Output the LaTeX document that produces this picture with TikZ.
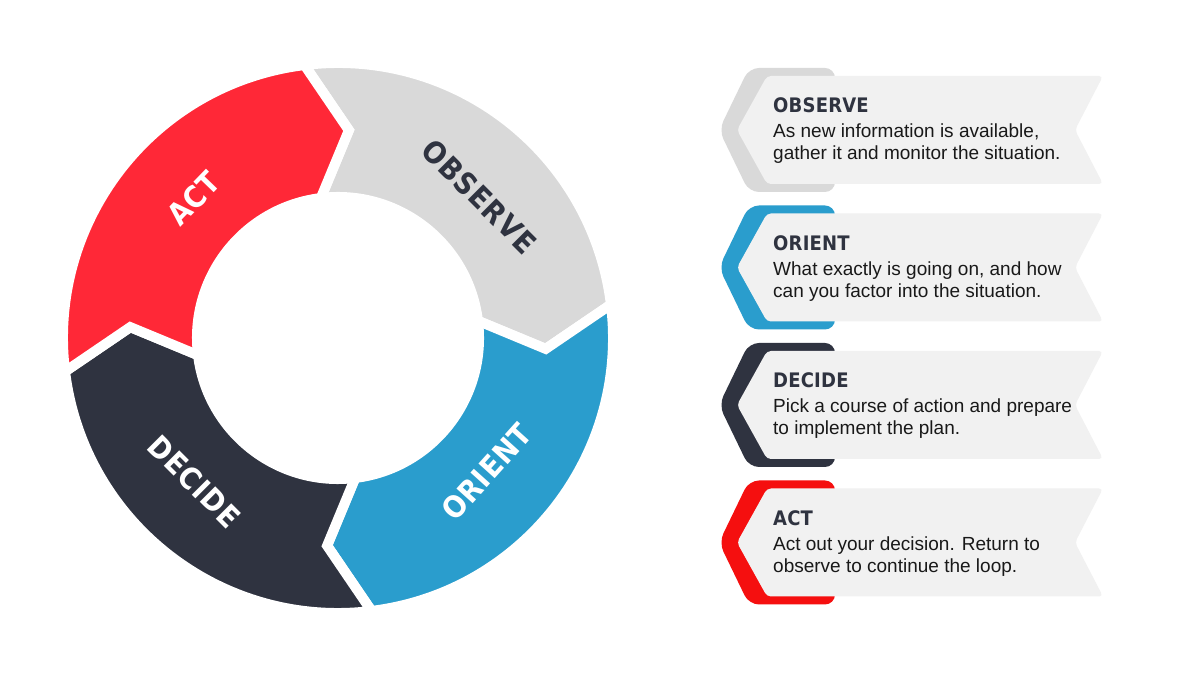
\documentclass[tikz,border=0pt]{standalone}
\usepackage{fontspec}
\setmainfont{Liberation Sans}
\newfontfamily\dinfont{DejaVu Sans Condensed}[LetterSpace=3]
\newfontfamily\dinhead{DejaVu Sans Condensed}[LetterSpace=1]
\usetikzlibrary{positioning}

\definecolor{obsgray}{HTML}{D9D9D9}
\definecolor{oriblue}{HTML}{2A9DCD}
\definecolor{decdark}{HTML}{2F3340}
\definecolor{actred}{HTML}{FF2837}
\definecolor{actpure}{HTML}{F50F0F}
\definecolor{bannergray}{HTML}{F1F1F1}

\begin{document}
\begin{tikzpicture}[
    x=1pt, y=1pt,
    segment/.style={draw=white, line width=10pt},
    ringlabel/.style={
        font=\dinfont\bfseries\fontsize{30}{30}\selectfont,
        text=white
    },
    hexagon/.style={rounded corners=10pt},
    banner/.style={fill=bannergray, rounded corners=4pt},
    headline/.style={
        anchor=base west,
        inner sep=0pt,
        text=decdark,
        font=\dinhead\bfseries\fontsize{20}{20}\selectfont
    },
    bodytext/.style={
        anchor=base west,
        inner sep=0pt,
        align=left,
        text=black!90,
        font=\fontsize{19}{22}\selectfont
    }
]

\fill[white] (0,0) rectangle (1200,675);
\useasboundingbox (0,0) rectangle (1200,675);

% ring
\begin{scope}[shift={(338,337)}]
\fill[segment, fill=obsgray] (97:275) arc[start angle=97, end angle=7, radius=275]
    -- (-3:208) -- (7:141) arc[start angle=7, end angle=97, radius=141] -- (87:208) -- cycle;
\fill[segment, fill=oriblue] (7:275) arc[start angle=7, end angle=-83, radius=275]
    -- (-93:208) -- (-83:141) arc[start angle=-83, end angle=7, radius=141] -- (-3:208) -- cycle;
\fill[segment, fill=decdark] (-83:275) arc[start angle=-83, end angle=-173, radius=275]
    -- (-183:208) -- (-173:141) arc[start angle=-173, end angle=-83, radius=141] -- (-93:208) -- cycle;
\fill[segment, fill=actred] (187:275) arc[start angle=187, end angle=97, radius=275]
    -- (87:208) -- (97:141) arc[start angle=97, end angle=187, radius=141] -- (177:208) -- cycle;

\node[ringlabel, text=decdark, rotate=-45] (obsLabel) at (45:200) {OBSERVE};
\node[ringlabel, rotate=48] (oriLabel) at (-42:200) {ORIENT};
\node[ringlabel, rotate=-45] (decLabel) at (-135:203) {DECIDE};
\node[ringlabel, rotate=46] (actLabel) at (136:201) {ACT};
\end{scope}

% observe panel
\fill[hexagon, fill=obsgray] (719,545) -- (749,607) -- (835,607) -- (835,483) -- (749,483) -- cycle;
\fill[banner] (737,545) -- (767,599) -- (1103,599) -- (1075,545) -- (1103,491) -- (767,491) -- cycle;
\node[headline] (obsHead) at (773,562) {OBSERVE};
\node[bodytext] (obsText) at (773,515) {As new information is available,\\gather it and monitor the situation.};

% orient panel
\fill[hexagon, fill=oriblue] (719,407.5) -- (749,469.5) -- (835,469.5) -- (835,345.5) -- (749,345.5) -- cycle;
\fill[banner] (737,407.5) -- (767,461.5) -- (1103,461.5) -- (1075,407.5) -- (1103,353.5) -- (767,353.5) -- cycle;
\node[headline] (oriHead) at (773,424.5) {ORIENT};
\node[bodytext] (oriText) at (773,377.5) {What exactly is going on, and how\\can you factor into the situation.};

% decide panel
\fill[hexagon, fill=decdark] (719,270) -- (749,332) -- (835,332) -- (835,208) -- (749,208) -- cycle;
\fill[banner] (737,270) -- (767,324) -- (1103,324) -- (1075,270) -- (1103,216) -- (767,216) -- cycle;
\node[headline] (decHead) at (773,287) {DECIDE};
\node[bodytext] (decText) at (773,240) {Pick a course of action and prepare\\to implement the plan.};

% act panel
\fill[hexagon, fill=actpure] (719,132.5) -- (749,194.5) -- (835,194.5) -- (835,70.5) -- (749,70.5) -- cycle;
\fill[banner] (737,132.5) -- (767,186.5) -- (1103,186.5) -- (1075,132.5) -- (1103,78.5) -- (767,78.5) -- cycle;
\node[headline] (actHead) at (773,149.5) {ACT};
\node[bodytext] (actText) at (773,102.5) {Act out your decision. Return to\\observe to continue the loop.};

\end{tikzpicture}
\end{document}
